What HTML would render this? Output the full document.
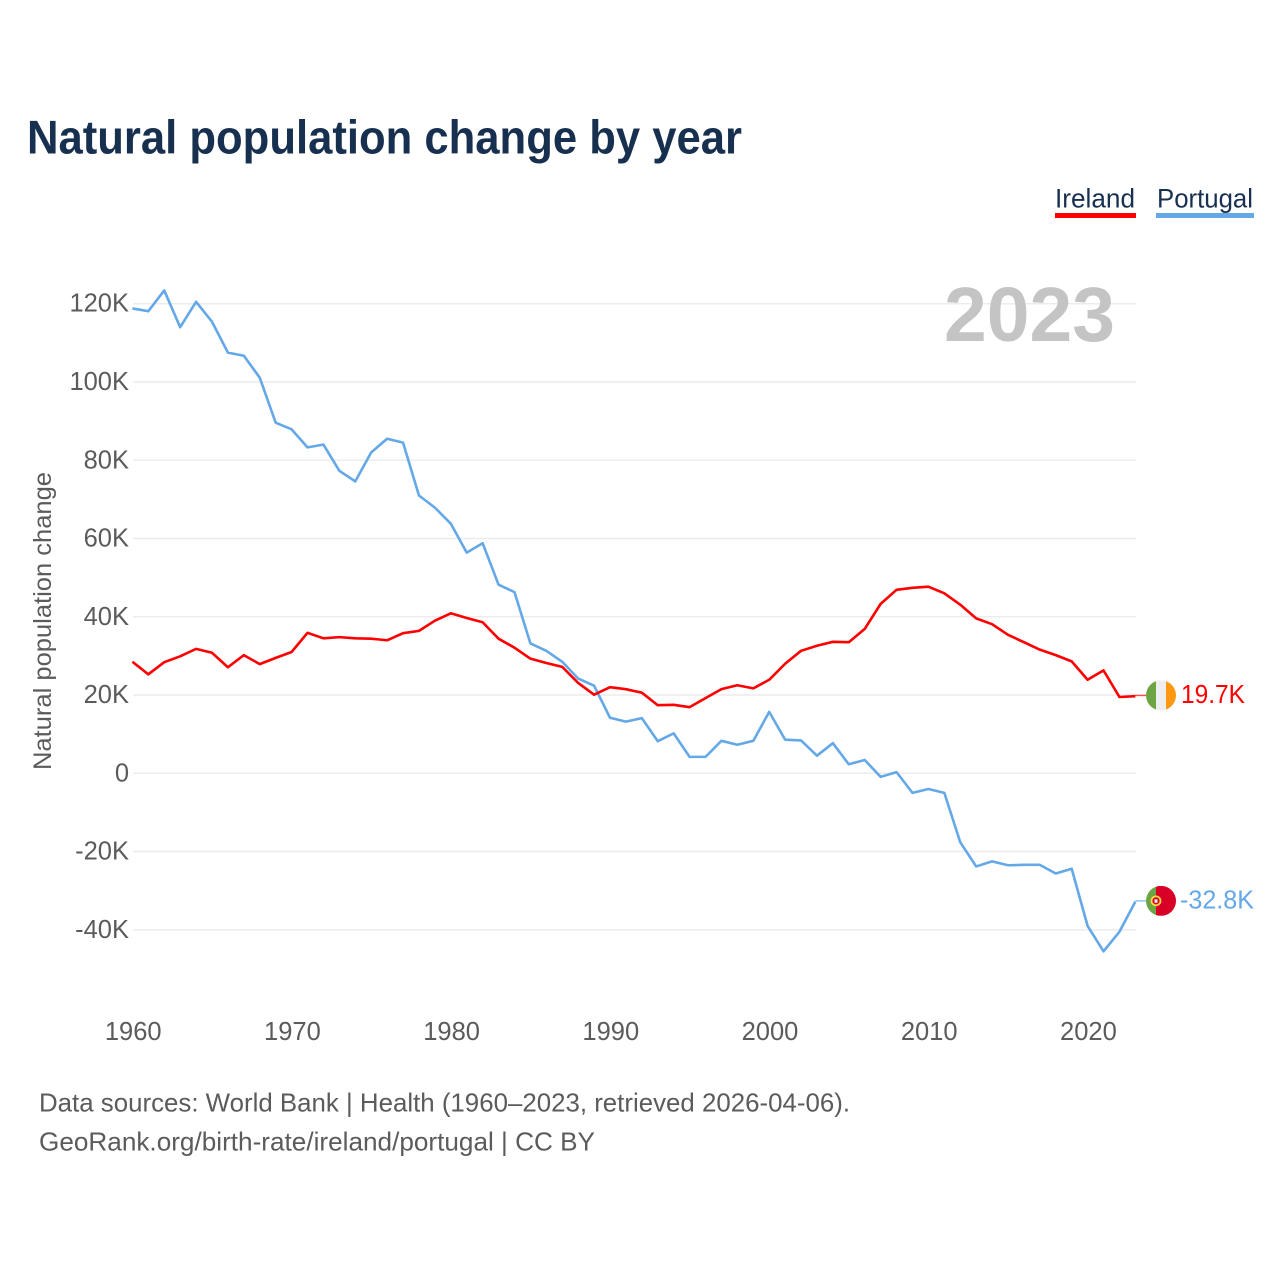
<!DOCTYPE html>
<html lang="en">
<head>
<meta charset="utf-8">
<title>Natural population change by year</title>
<style>
html,body{margin:0;padding:0;background:#fff;width:1280px;height:1280px;overflow:hidden}
svg{display:block}
text{font-family:"Liberation Sans",sans-serif}
</style>
</head>
<body>
<svg id="chart" width="1280" height="1280" viewBox="0 0 1280 1280" xmlns="http://www.w3.org/2000/svg">
  <defs>
    <clipPath id="flag-clip"><circle cx="0" cy="0" r="15"></circle></clipPath>
  </defs>
  <rect x="0" y="0" width="1280" height="1280" fill="#fff"></rect>
  <text x="27" y="153.5" font-size="47" font-weight="700" fill="#18304f" textLength="715" lengthAdjust="spacingAndGlyphs">Natural population change by year</text>

  <g>
    <text x="1055" y="207.5" font-size="27" fill="#18304f" textLength="80" lengthAdjust="spacingAndGlyphs">Ireland</text>
    <rect x="1055" y="213" width="81" height="5" fill="#ff0000"></rect>
  </g>
  <g>
    <text x="1157" y="207.5" font-size="27" fill="#18304f" textLength="96" lengthAdjust="spacingAndGlyphs">Portugal</text>
    <rect x="1156" y="213" width="98" height="5" fill="#64a8e8"></rect>
  </g>

  <g id="grid"></g>
  <g id="y-ticks"></g>
  <g id="x-ticks"></g>

  <text transform="translate(51,621) rotate(-90)" text-anchor="middle" font-size="25" fill="#5b5b5b" textLength="298" lengthAdjust="spacingAndGlyphs">Natural population change</text>
  <text x="944" y="341" font-size="77" font-weight="700" fill="#c4c4c4" textLength="171" lengthAdjust="spacingAndGlyphs">2023</text>

  <g id="series"></g>

  <g id="flag-ireland">
    <g clip-path="url(#flag-clip)">
      <rect x="-15" y="-15" width="10" height="30" fill="#6da544"></rect>
      <rect x="-5" y="-15" width="10" height="30" fill="#eeeeee"></rect>
      <rect x="5" y="-15" width="10" height="30" fill="#ff9811"></rect>
    </g>
  </g>
  <g id="flag-portugal">
    <g clip-path="url(#flag-clip)">
      <rect x="-15" y="-15" width="10" height="30" fill="#6da544"></rect>
      <rect x="-5" y="-15" width="20" height="30" fill="#d80027"></rect>
      <circle cx="-5" cy="0" r="4.5" fill="#d80027" stroke="#ffda44" stroke-width="1.8"></circle>
      <rect x="-6.5" y="-1.5" width="3" height="3.4" fill="#f0f0f0"></rect>
    </g>
  </g>
  <text id="value-ireland" x="1181" font-size="25.5" fill="#ff0000" textLength="64" lengthAdjust="spacingAndGlyphs"></text>
  <text id="value-portugal" x="1180" font-size="25.5" fill="#64a8e8" textLength="74" lengthAdjust="spacingAndGlyphs"></text>

  <text x="39" y="1111.5" font-size="26" fill="#5b5b5b" textLength="811" lengthAdjust="spacingAndGlyphs">Data sources: World Bank | Health (1960–2023, retrieved 2026-04-06).</text>
  <text x="39" y="1150.5" font-size="26" fill="#5b5b5b" textLength="556" lengthAdjust="spacingAndGlyphs">GeoRank.org/birth-rate/ireland/portugal | CC BY</text>
</svg>

<script>
const startYear = 1960;
const irelandValues = [28.5,25.3,28.4,29.9,31.8,30.8,27.1,30.2,27.9,29.5,31,35.9,34.5,34.8,34.5,34.4,34,35.8,36.4,39,40.9,39.7,38.6,34.4,32.1,29.3,28.2,27.2,23.1,20.1,22,21.5,20.6,17.4,17.5,16.9,19.2,21.5,22.5,21.7,23.9,28,31.3,32.6,33.6,33.5,36.9,43.3,46.9,47.4,47.7,46,43.1,39.6,38.1,35.4,33.5,31.6,30.2,28.6,23.9,26.3,19.5,19.7];
const portugalValues = [118.8,118.1,123.4,114,120.5,115.4,107.5,106.7,101.1,89.6,87.9,83.3,84,77.3,74.6,82,85.5,84.5,71,67.9,63.8,56.4,58.8,48.2,46.3,33.2,31.3,28.5,24.2,22.4,14.2,13.2,14.1,8.2,10.2,4.2,4.2,8.3,7.3,8.3,15.7,8.6,8.4,4.5,7.7,2.3,3.4,-0.9,0.3,-5,-4,-5,-17.6,-23.8,-22.5,-23.5,-23.4,-23.4,-25.6,-24.4,-39,-45.5,-40.5,-32.8];
const yTickValues = [120,100,80,60,40,20,0,-20,-40];
const yTickLabels = ["120K","100K","80K","60K","40K","20K","0","-20K","-40K"];
const xTickYears = [1960,1970,1980,1990,2000,2010,2020];

const NS = 'http://www.w3.org/2000/svg';
const xScale = year => 132.4 + (year - 1960) * 15.92;
const yScale = value => 773.3 - value * 3.913;

function make(tag, parent, attrs) {
  const el = document.createElementNS(NS, tag);
  for (const k in attrs) el.setAttribute(k, attrs[k]);
  parent.appendChild(el);
  return el;
}

const grid = document.getElementById('grid');
const yTicks = document.getElementById('y-ticks');
yTickValues.forEach((v, i) => {
  const line = make('line', grid, {x1: 133, x2: 1136, y1: yScale(v), y2: yScale(v), stroke: '#ececec', 'stroke-width': 1.5});
  
  
  const t = make('text', yTicks, {x: 129, y: yScale(v) + 8, 'text-anchor': 'end', 'font-size': 25.5, fill: '#5b5b5b'});
  
  
  t.textContent = yTickLabels[i];
});

const xTicks = document.getElementById('x-ticks');
xTickYears.forEach(year => {
  const t = make('text', xTicks, {x: xScale(year) + 0.8, y: 1040, 'text-anchor': 'middle', 'font-size': 25.5, fill: '#5b5b5b'});
  
  
  t.textContent = year;
});

function toPoints(values) {
  return values.map((v, i) => xScale(startYear + i).toFixed(2) + ',' + yScale(v).toFixed(2)).join(' ');
}
const series = document.getElementById('series');

function drawEnd(values, color, flagId, labelId) {
  const last = values[values.length - 1];
  const lastX = xScale(startYear + values.length - 1);
  const lastY = yScale(last) - 0.8;
  const connector = make('line', series, {x1: lastX, x2: 1147, y1: lastY, y2: lastY, stroke: color, 'stroke-width': 1.5, opacity: 0.7});
  
  
  document.getElementById(flagId).setAttribute('transform', 'translate(1161,' + lastY.toFixed(2) + ')');
  const label = document.getElementById(labelId);
  label.setAttribute('y', (lastY + 7.5).toFixed(2));
  label.textContent = last.toFixed(1) + 'K';
}

const portugalLine = make('polyline', series, {points: toPoints(portugalValues), fill: 'none', stroke: '#64a8e8', 'stroke-width': 2.6, 'stroke-linejoin': 'round'});


const irelandLine = make('polyline', series, {points: toPoints(irelandValues), fill: 'none', stroke: '#ff0000', 'stroke-width': 2.6, 'stroke-linejoin': 'round'});



drawEnd(irelandValues, '#ff0000', 'flag-ireland', 'value-ireland');
drawEnd(portugalValues, '#64a8e8', 'flag-portugal', 'value-portugal');
</script>
</body>
</html>
